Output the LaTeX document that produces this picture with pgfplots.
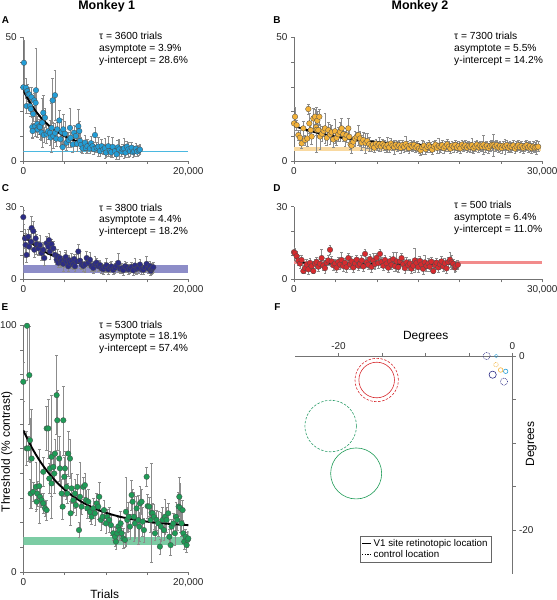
\documentclass[border=0pt]{standalone}
\usepackage{fontspec}
\setmainfont{Liberation Sans}
\usepackage{pgfplots}
\usepackage{pgfplotstable}
\pgfplotsset{compat=1.18}
\definecolor{colA}{HTML}{239DD6}
\definecolor{colB}{HTML}{F3B23A}
\definecolor{colC}{HTML}{2C2C86}
\definecolor{colD}{HTML}{D62A2E}
\definecolor{colE}{HTML}{1F9B57}
\definecolor{bandA}{HTML}{4BB8E0}
\definecolor{bandB}{HTML}{F9D9A0}
\definecolor{bandC}{HTML}{8D8DC8}
\definecolor{bandD}{HTML}{F28B8B}
\definecolor{bandE}{HTML}{7CCCA4}
\definecolor{circG}{HTML}{2E9E6B}
\pgfplotsset{
  panel/.style={scale only axis, anchor=south west, axis lines=left,
    axis line style={-, draw=black!55, line width=0.5pt},
    tick align=outside, tick style={draw=black!55, line width=0.5pt},
    major tick length=3bp, enlargelimits=false, scaled ticks=false,
    xmin=0, ymin=0,
    ticklabel style={font=\fontsize{10}{12}\selectfont, text=black!85},
    /pgf/number format/assume math mode=true},
  ebar/.style={only marks, mark=none, forget plot, error bars/.cd, y dir=both, y explicit,
    error bar style={draw=black!45, line width=0.4pt},
    error mark options={rotate=90, draw=black!45, mark size=1.4bp, line width=0.4pt}},
  dots/.style={only marks, mark=*, mark size=2.8bp, mark options={fill=#1, draw=black!70, line width=0.3pt}},
  fitc/.style={black, line width=1.9bp, smooth, mark=none},
}
\pgfplotstableread{
x y e
80 39.7 9
0 29.8 3
320 29.6 4
480 28.2 3
600 27.0 3
730 26.9 3
1000 25.8 4
400 22.2 3
800 22.2 3
900 21.0 3
1200 19.0 3
1535 28.6 17
1330 24.5 3
1500 23.5 4
1090 13.7 4
1130 12.1 3
1450 14.1 4
1700 15.0 3
1740 12.8 3
1900 14.0 3
2020 13.7 5
2200 11.5 3
2300 15.5 10
2420 19.5 7
2500 10.5 3
2630 17.5 4
2830 11.0 4
3000 12.0 3
3230 11.4 5
3300 9.5 3
3430 13.4 10
3555 24.5 9
3840 26.6 10
3640 10.1 5
3840 11.4 4
4000 9.0 3
4120 12.8 3
4360 16.4 4
4500 8.8 3
4650 11.7 5
4850 12.8 6
5050 11.0 5
4770 5.6 7
5250 7.4 3
5500 8.5 3
5660 13.4 8
5740 9.4 4
6000 6.7 3
6140 11.4 3
6380 10.1 4
6500 7.0 3
6670 14.1 7
6790 12.1 4
6870 8.1 3
7000 6.5 3
7190 5.1 2
7470 7.4 3
7600 5.2 2
7760 6.0 3
8080 5.1 2
8200 7.2 3
8400 6.0 2
8550 4.8 2
8690 10.5 3
8890 5.4 2
9100 5.8 4
9290 4.0 2
9500 6.0 3
9700 4.7 2
9900 5.2 4
10020 3.4 2
10300 6.0 4
10500 4.0 2
10650 3.5 2
10830 5.7 4
11110 4.0 2
11310 2.7 2
11450 5.5 3
11600 4.7 4
11920 3.8 2
12050 4.8 2
12200 5.1 4
12400 3.4 2
12550 5.8 2
12730 4.7 3
12930 4.0 2
13130 5.4 2
13300 3.6 2
13450 4.0 2
13650 5.0 2
13800 3.8 2
14000 4.3 2
14140 4.6 2
}\dataA
\pgfplotstableread{
x y e
0 15.2 3
121 17.9 4
322 14.5 2
523 10.5 2
725 9.4 3
925 7.1 2
1127 13.2 3
1329 8.5 2
1611 9.1 3
1732 21.0 2
1853 15.2 4
2014 12.5 3
2135 9.9 3
2335 17.2 4
2536 17.9 3
2658 13.6 3
2740 12.6 9
2820 16.3 4
2940 12.5 2
3060 17.9 3
3140 9.9 5
3380 11.0 3
3580 12.2 2
3744 13.2 6
3960 9.4 3
4150 12.5 3
4350 10.7 4
4550 11.6 3
4750 8.7 3
4950 12.0 5
5150 9.4 3
5350 10.8 3
5550 11.8 4
5757 13.2 4
5960 10.8 3
6160 9.1 3
6350 10.4 3
6563 13.2 4
6680 9.8 3
6840 6.7 2
6960 6.2 3
7170 7.8 2
7370 9.1 3
7570 9.8 2
7770 10.5 4
7970 9.1 3
8170 7.4 3
8370 8.5 3
8650 7.3 4
8850 8.1 3
9100 6.8 3
9350 6.1 2
9550 6.6 2
9700 5.4 2
9900 7.0 2
10100 6.2 2
10300 6.8 3
10500 5.9 2
10700 7.0 2
10900 6.3 2
11100 5.6 2
11300 6.5 3
11500 5.5 2
11700 7.1 2
11900 6.2 2
12100 5.6 3
12300 6.6 2
12500 5.8 2
12700 6.3 2
12900 5.3 2
13100 6.4 2
13300 5.7 2
13500 6.9 3
13700 5.9 2
13900 5.2 2
14100 6.4 2
14300 5.8 2
14500 6.5 2
14700 5.4 2
14900 6.0 2
15100 5.0 2
15300 4.3 2
15500 5.6 3
15700 6.2 2
15900 4.8 2
16100 5.7 2
16300 6.3 2
16500 5.5 2
16700 4.6 2
16900 5.9 2
17100 6.6 2
17300 5.3 2
17500 6.1 3
17700 5.7 2
17900 6.4 2
18100 5.2 2
18300 5.9 2
18500 6.7 2
18700 5.8 2
18900 5.0 2
19100 6.2 2
19300 5.6 2
19500 6.5 2
19700 5.4 2
19900 6.1 2
20100 5.1 2
20300 6.6 2
20500 5.8 2
20700 6.3 2
20900 5.4 2
21100 6.1 2
21300 5.7 2
21500 6.4 3
21700 5.2 2
21900 5.9 2
22100 6.6 2
22300 5.5 2
22500 6.2 2
22700 5.8 2
22900 6.6 4
23100 5.6 2
23300 6.2 2
23500 5.3 2
23700 6.0 2
23900 6.5 2
24100 6.5 4.5
24300 5.9 2
24500 6.4 2
24700 5.5 2
24900 6.1 2
25100 5.3 2
25300 6.2 2
25500 5.8 3
25700 6.4 2
25900 5.4 2
26100 6.0 2
26300 5.6 2
26500 6.3 2
26700 5.0 2
26900 5.8 2
27100 6.4 2
27300 5.6 2
27500 6.1 2
27700 5.3 2
27900 5.9 2
28100 6.4 2
28300 5.5 2
28500 6.0 2
28700 5.2 2
28900 5.8 2
29100 5.4 2
29300 5.6 3
29500 5.8 2
}\dataB
\pgfplotstableread{
x y e
0 25.7 3
200 16.9 4
280 14.2 5
400 10.1 3
600 17.6 3
690 13.5 4
930 15.5 3
1010 21.2 5
1210 19.9 4
1330 12.2 3
1500 16.9 3
1620 14.5 4
1820 12.8 3
2020 14.2 4
2220 10.8 3
2420 12.2 3
2550 8.8 3
2830 14.9 3
3030 13.5 3
3110 16.2 3
3230 11.5 3
3430 14.5 2
3640 12.8 3
3840 10.1 3
4040 8.1 2
4140 9.5 3
4240 6.8 2
4440 8.8 3
4540 7.0 2
4650 7.4 2
4850 6.4 3
5050 8.1 3
5150 9.2 3
5250 7.4 2
5450 5.4 2
5550 7.9 2
5660 6.8 2
5860 7.7 3
6060 6.1 2
6160 8.4 2
6260 5.4 2
6460 7.4 3
6670 11.5 3
6870 7.7 3
7070 6.1 2
7270 5.5 2
7470 6.1 3
7680 8.8 3
7880 6.8 2
8080 8.1 3
8280 5.4 2
8480 4.7 2
8690 6.4 3
8880 6.9 2
9090 5.4 2
9290 5.9 2
9490 4.5 2
9700 4.2 2
9900 5.0 2
10100 5.8 3
10300 4.1 2
10500 4.9 2
10700 5.3 2
10900 3.9 2
11110 4.7 2
11310 5.6 2
11510 6.8 4
11710 4.4 2
11920 4.5 2
12120 3.8 2
12320 5.4 2
12520 5.0 2
12730 4.1 2
12930 4.4 2
13130 5.1 2
13330 3.7 2
13530 5.7 3
13740 4.3 2
13940 4.7 2
14140 6.1 2
14340 4.1 2
14550 3.9 2
14750 5.0 2
14950 6.4 3
15150 4.5 2
15350 5.4 2
15450 3.5 2
15560 4.2 2
15650 4.6 2
15760 5.0 2
}\dataC
\pgfplotstableread{
x y e
0 11.2 2
120 10.8 2
320 9.5 2
520 7.8 2
720 6.5 2
920 8.0 2
1130 3.4 1
1330 4.7 2
1530 6.1 2
1730 4.1 2
1930 6.8 2
2130 5.4 2
2340 3.4 1
2540 6.5 2
2740 7.2 2
2940 5.2 2
3140 6.4 2
3340 8.8 3.5
3540 5.7 2
3740 4.6 2
3940 6.9 2
4140 7.8 2
4350 12.2 2
4550 7.4 2
4750 5.8 2
4950 6.5 2
5150 4.8 2
5350 7.2 2
5550 6.1 2
5750 8.0 3
5950 5.5 2
6150 6.8 2
6350 5.0 2
6565 8.8 2
6770 6.2 2
6970 7.4 2
7170 4.9 2
7370 6.6 2
7570 8.1 2
7770 5.6 2
7970 6.4 2
8170 7.8 2
8380 5.3 2
8580 10.5 2
8780 7.0 2
8980 6.0 2
9180 8.4 2
9380 5.1 2
9580 7.6 3
9780 6.3 2
9980 8.9 2
10190 6.7 2
10390 10.5 2
10590 7.2 2
10790 5.6 2
10990 8.0 2
11190 6.5 2
11390 4.8 2
11590 7.5 2
11790 6.0 2
11990 8.3 3
12190 5.4 2
12400 7.4 4
12600 5.0 2
12800 7.4 2
13000 8.8 2
13200 6.2 2
13400 4.6 2
13600 7.0 2
13800 5.8 2
14000 6.5 2
14200 4.4 2
14600 7.8 5
14400 5.6 2
14800 6.8 2
15000 5.0 2
15200 7.6 2
15400 6.1 2
15600 4.3 2
15800 7.0 3
16000 5.5 2
16230 6.6 2
16400 5.2 2
16600 7.3 2
16830 3.4 1
17030 5.8 2
17230 6.9 2
17430 4.9 2
17630 6.2 2
17830 7.4 2
18030 5.3 2
18230 6.6 2
18430 4.5 2
18640 7.1 2
18850 8.1 3
19050 7.0 3
19250 6.4 2
19450 4.8 2
19530 5.4 2
19800 6.0 2
}\dataD
\pgfplotstableread{
x y e
0 77.1 8
450 99.8 22
730 79.8 20
400 50.1 7
810 53.4 9
600 50.1 5
1010 46.0 20
890 31.8 6
1210 32.5 4
1535 34.5 10
1700 31.8 5
1940 34.8 15
1616 28.5 3
2020 30.5 4
2220 29.1 3
2420 27.8 4
2630 25.8 3
2830 25.1 4
2420 40.6 6
2830 58.2 9
3030 58.2 12
3150 37.9 6
3230 42.0 7
3430 46.7 25
3430 35.9 5
3640 42.6 6
3760 39.9 8
3840 48.0 6
4040 71.7 16
4120 61.5 12
4360 46.0 9
4440 42.0 7
4650 31.8 6
4770 26.5 5
4850 61.5 14
4970 38.6 8
5050 42.0 7
5250 34.5 5
5330 31.8 4
5450 48.0 9
5660 46.0 8
5740 23.8 5
5860 33.9 6
6060 29.1 5
6260 31.8 6
6380 27.1 4
6545 34.5 5
6750 17.0 3
6870 30.5 14
7070 26.5 3
7270 34.5 4
7470 35.2 5
7600 29.1 4
7760 25.8 4
7880 28.5 5
8080 24.4 4
8280 22.4 3
8480 25.8 4
8690 23.8 5
8890 27.8 4
9090 26.5 5
9210 30.5 6
9410 21.1 4
9615 22.4 3
9780 25.1 4
10020 19.7 4
10180 22.4 3
10420 21.1 5
10625 19.0 4
10910 15.7 3
11110 14.3 4
11230 12.3 3
11390 15.7 3
11510 18.4 4
11640 17.0 4
11800 19.7 5
11920 15.7 3
12120 13.6 4
12320 13.0 3
12440 24.4 14
12600 21.1 5
12770 22.4 6
12930 18.4 5
13130 31.2 6
13250 28.5 5
13410 22.4 10
13530 19.7 6
13740 25.8 5
13940 21.1 10
14060 18.4 6
14140 27.8 7
14340 28.5 5
14460 20.4 6
14625 17.0 5
14950 38.6 4
15070 26.7 5
15270 26.5 4
15430 21.1 5
15550 24.0 20
15680 23.8 4
15840 22.4 5
15960 15.7 3
16160 21.1 4
16360 19.7 5
16560 10.3 3
16690 18.4 6
16890 21.1 5
17050 17.0 4
17170 22.4 7
17370 21.1 5
17570 23.8 4
17700 14.3 3
17860 10.9 4
17980 18.4 3
18180 19.7 4
18380 15.7 5
18500 22.4 6
18660 21.1 4
18830 26.5 6
18910 30.5 8
18990 26.0 10
19190 19.7 5
19310 25.1 4
19390 15.7 4
19510 12.3 3
19675 14.3 3
19800 10.9 3
19920 13.0 3
20000 13.6 3
}\dataE
\begin{document}
\begin{tikzpicture}
\useasboundingbox (0,0) rectangle (557bp,600bp);
% ---------- A ----------
\begin{axis}[panel, at={(23.3bp,439bp)}, width=165bp, height=123.7bp,
  xmax=20000, ymax=50, xtick={0,5000,10000,15000,20000}, xticklabels={0,,,,{20,000}},
  ytick={0,10,20,30,40,50}, yticklabels={0,,,,,50}]
\addplot[draw=bandA, line width=0.8pt, forget plot] coordinates {(0,3.9) (20000,3.9)};
\addplot[ebar] table[x=x,y=y,y error=e] {\dataA};
\addplot[dots=colA] table[x=x,y=y] {\dataA};
\addplot[fitc] coordinates {(0,28.6) (500,25.40) (1000,22.61) (1500,20.18) (2000,18.07) (2500,16.24) (3000,14.64) (3500,13.24) (4000,12.03) (5000,10.06) (6000,8.57) (7000,7.43) (8000,6.58) (9000,5.93) (10000,5.44) (11000,5.06) (12000,4.78) (13000,4.57) (14200,4.38)};
\end{axis}
% ---------- B ----------
\begin{axis}[panel, at={(294bp,439bp)}, width=248.3bp, height=123.7bp,
  xmax=30000, ymax=50, xtick={0,5000,10000,15000,20000,25000,30000}, xticklabels={0,,,,,,{30,000}},
  ytick={0,10,20,30,40,50}, yticklabels={0,,,,,50}]
\addplot[fill=bandB, draw=none, forget plot] coordinates {(0,4.2) (29800,4.2) (29800,5.8) (0,5.8)} -- cycle;
\addplot[ebar] table[x=x,y=y,y error=e] {\dataB};
\addplot[dots=colB] table[x=x,y=y] {\dataB};
\addplot[fitc] coordinates {(0,14.2) (1000,13.09) (2000,12.12) (3000,11.27) (4000,10.53) (5000,9.88) (6000,9.32) (7000,8.83) (8000,8.41) (10000,7.71) (12000,7.18) (14000,6.78) (16000,6.47) (18000,6.24) (20000,6.06) (22000,5.93) (24000,5.82) (26000,5.75) (28000,5.69) (29500,5.65)};
\end{axis}
% ---------- C ----------
\begin{axis}[panel, at={(23.3bp,320.7bp)}, width=165bp, height=72.6bp,
  xmax=20000, ymax=30, xtick={0,5000,10000,15000,20000}, xticklabels={0,,,,{20,000}},
  ytick={0,10,20,30}, yticklabels={0,,,30}]
\addplot[fill=bandC, draw=none, forget plot] coordinates {(0,2.4) (20000,2.4) (20000,6.1) (0,6.1)} -- cycle;
\addplot[ebar] table[x=x,y=y,y error=e] {\dataC};
\addplot[dots=colC] table[x=x,y=y] {\dataC};
\addplot[fitc] coordinates {(0,18.2) (500,16.50) (1000,15.01) (1500,13.70) (2000,12.55) (3000,10.67) (4000,9.22) (5000,8.10) (6000,7.25) (7000,6.59) (8000,6.08) (9000,5.69) (10000,5.39) (11000,5.16) (12000,4.99) (13000,4.85) (14000,4.75) (15000,4.67) (15800,4.62)};
\end{axis}
% ---------- D ----------
\begin{axis}[panel, at={(294bp,320.7bp)}, width=248.3bp, height=72.6bp,
  xmax=30000, ymax=30, xtick={0,5000,10000,15000,20000,25000,30000}, xticklabels={0,,,,,,{30,000}},
  ytick={0,10,20,30}, yticklabels={0,,,30}]
\addplot[fill=bandD, draw=none, forget plot] coordinates {(0,6.5) (30000,6.5) (30000,7.7) (0,7.7)} -- cycle;
\addplot[ebar] table[x=x,y=y,y error=e] {\dataD};
\addplot[dots=colD] table[x=x,y=y] {\dataD};
\addplot[fitc] coordinates {(0,11.0) (100,10.17) (250,9.19) (400,8.47) (500,8.09) (750,7.43) (1000,7.02) (1500,6.63) (2000,6.48) (3000,6.41) (19800,6.40)};
\end{axis}
% ---------- E ----------
\begin{axis}[panel, at={(23.3bp,28bp)}, width=165bp, height=246.7bp,
  xmax=20000, ymax=100, xtick={0,5000,10000,15000,20000}, xticklabels={0,,,,{20,000}},
  ytick={0,10,...,100}, yticklabels={0,,,,,,,,,,100}]
\addplot[fill=bandE, draw=none, forget plot] coordinates {(0,10.9) (20000,10.9) (20000,14.3) (0,14.3)} -- cycle;
\addplot[ebar] table[x=x,y=y,y error=e] {\dataE};
\addplot[dots=colE] table[x=x,y=y] {\dataE};
\addplot[fitc] coordinates {(0,57.4) (1000,50.64) (2000,45.05) (3000,40.41) (4000,36.58) (5000,33.40) (6000,30.77) (7000,28.59) (8000,26.79) (9000,25.29) (10000,24.05) (11000,23.03) (12000,22.18) (13000,21.48) (14000,20.90) (15000,20.42) (16000,20.02) (17000,19.69) (18000,19.42) (19000,19.19) (20000,19.00)};
\end{axis}
% ---------- F ----------
\begin{axis}[scale only axis, anchor=south west, at={(295bp,26.5bp)}, width=217.5bp, height=217.5bp,
  xmin=-25, xmax=0, ymin=-25, ymax=0, enlargelimits=false,
  axis x line=top, axis y line=right,
  axis line style={-, draw=black!55, line width=0.5pt},
  tick align=outside, tick style={draw=black!55, line width=0.5pt}, major tick length=3bp,
  xtick={-20,-15,-10,-5,0}, xticklabels={-20,,,,0},
  ytick={-20,-15,-10,-5,0}, yticklabels={-20,,,,0},
  ticklabel style={font=\fontsize{10}{12}\selectfont, text=black!85},
  /pgf/number format/assume math mode=true,
  legend style={at={(0.2424,0.1736)}, anchor=north west, xshift=12bp, draw=black!60, line width=0.5pt,
    font=\fontsize{9.8}{12}\selectfont, inner sep=1.5pt, row sep=-1.5pt, cells={anchor=west}},
  legend image code/.code={\draw[#1] (0bp,0bp) -- (9bp,0bp);}]
\addlegendimage{black, line width=1.2pt}
\addlegendentry{V1 site retinotopic location}
\addlegendimage{black, line width=1.2pt, dash pattern=on 1.3pt off 1.3pt}
\addlegendentry{control location}
\addplot[only marks, mark=o, mark size=17.8bp, mark options={draw=colD, line width=0.6pt}, forget plot] coordinates {(-15.61,-2.76)};
\addplot[only marks, mark=o, mark size=21.7bp, mark options={draw=colD, line width=0.6pt, dash pattern=on 2.5pt off 1.5pt}, forget plot] coordinates {(-15.61,-2.76)};
\addplot[only marks, mark=o, mark size=25.8bp, mark options={draw=circG, line width=0.6pt, dash pattern=on 2.5pt off 1.5pt}, forget plot] coordinates {(-20.9,-8.05)};
\addplot[only marks, mark=o, mark size=25.5bp, mark options={draw=colE, line width=0.6pt}, forget plot] coordinates {(-17.97,-13.5)};
\addplot[only marks, mark=o, mark size=3.6bp, mark options={draw=colC, line width=0.5pt, dash pattern=on 1pt off 0.8pt}, forget plot] coordinates {(-2.97,0) (-0.98,-2.95)};
\addplot[only marks, mark=o, mark size=3.6bp, mark options={draw=colC, line width=0.6pt}, forget plot] coordinates {(-2.28,-2.15)};
\addplot[only marks, mark=o, mark size=1.8bp, mark options={draw=colA, line width=0.5pt, dash pattern=on 0.8pt off 0.6pt}, forget plot] coordinates {(-1.86,0)};
\addplot[only marks, mark=o, mark size=2.2bp, mark options={draw=colA, line width=0.6pt}, forget plot] coordinates {(-0.78,-1.76)};
\addplot[only marks, mark=o, mark size=2.3bp, mark options={draw=colB, line width=0.5pt, dash pattern=on 1pt off 0.8pt}, forget plot] coordinates {(-1.9,-1.0)};
\addplot[only marks, mark=o, mark size=2.3bp, mark options={draw=colB, line width=0.6pt}, forget plot] coordinates {(-1.36,-1.61)};
\end{axis}
% ---------- text ----------
\begin{scope}[every node/.style={inner sep=0pt}]
\node[font=\fontsize{12.5}{14}\selectfont\bfseries, anchor=base] at (106.7bp,590bp) {Monkey 1};
\node[font=\fontsize{12.5}{14}\selectfont\bfseries, anchor=base] at (420bp,590bp) {Monkey 2};
\node[font=\fontsize{10}{12}\selectfont\bfseries] at (5.5bp,580bp) {A};
\node[font=\fontsize{10}{12}\selectfont\bfseries] at (277bp,580bp) {B};
\node[font=\fontsize{10}{12}\selectfont\bfseries] at (5.5bp,411.5bp) {C};
\node[font=\fontsize{10}{12}\selectfont\bfseries] at (277bp,411.5bp) {D};
\node[font=\fontsize{10}{12}\selectfont\bfseries] at (5bp,293bp) {E};
\node[font=\fontsize{10}{12}\selectfont\bfseries] at (277.5bp,293bp) {F};
\begin{scope}[every node/.append style={font=\fontsize{10.3}{12}\selectfont, anchor=base west}]
\node at (99bp,560bp) {τ = 3600 trials};
\node at (99bp,548bp) {asymptote = 3.9\%};
\node at (99bp,536bp) {y-intercept = 28.6\%};
\node at (454bp,560bp) {τ = 7300 trials};
\node at (454bp,548bp) {asymptote = 5.5\%};
\node at (454bp,536bp) {y-intercept = 14.2\%};
\node at (99bp,388.5bp) {τ = 3800 trials};
\node at (99bp,377bp) {asymptote = 4.4\%};
\node at (99bp,365.5bp) {y-intercept = 18.2\%};
\node at (454bp,391.5bp) {τ = 500 trials};
\node at (454bp,379.5bp) {asymptote = 6.4\%};
\node at (454bp,367.5bp) {y-intercept = 11.0\%};
\node at (99bp,271.5bp) {τ = 5300 trials};
\node at (99bp,260bp) {asymptote = 18.1\%};
\node at (99bp,248.5bp) {y-intercept = 57.4\%};
\end{scope}
\node[font=\fontsize{12}{14}\selectfont, rotate=90] at (6.7bp,148.3bp) {Threshold (\% contrast)};
\node[font=\fontsize{12}{14}\selectfont] at (104.7bp,5.5bp) {Trials};
\node[font=\fontsize{12}{14}\selectfont, anchor=base] at (425.7bp,260bp) {Degrees};
\node[font=\fontsize{12}{14}\selectfont, rotate=90] at (531.3bp,156bp) {Degrees};
\end{scope}
\end{tikzpicture}
\end{document}
